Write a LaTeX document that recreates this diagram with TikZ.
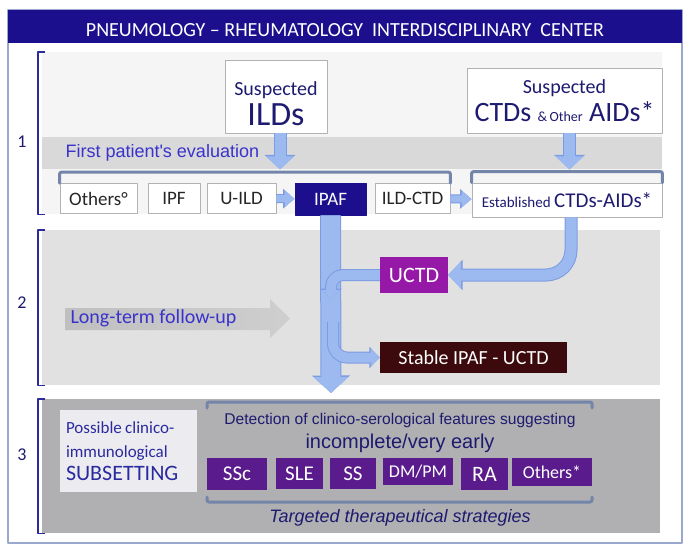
\documentclass[tikz,border=0pt]{standalone}
\usepackage{fontspec}
\setmainfont{Carlito}
\newfontfamily\arialfont{Liberation Sans}
\usetikzlibrary{arrows.meta,positioning,calc}
\newcommand{\fsz}[1]{\fontsize{#1}{#1}\selectfont}

\definecolor{titlenavy}{HTML}{1C0F8E}
\definecolor{framegray}{HTML}{9AA8CF}
\definecolor{txtnavy}{HTML}{1E1A70}
\definecolor{txtblue}{HTML}{3A32CC}
\definecolor{subsetblue}{HTML}{2A2AA0}
\definecolor{arrowblue}{HTML}{9DBAF0}
\definecolor{arrowedge}{HTML}{7B9BE2}
\definecolor{uctdpurple}{HTML}{9518A6}
\definecolor{stablebrown}{HTML}{3C0A0C}
\definecolor{subsetpurple}{HTML}{5A1C8C}
\definecolor{bracknavy}{HTML}{2C2A9C}
\definecolor{brackgray}{HTML}{7385A8}
\definecolor{panelone}{HTML}{F5F5F5}
\definecolor{bandgray}{HTML}{D9D9D9}
\definecolor{paneltwo}{HTML}{E1E1E1}
\definecolor{panelthree}{HTML}{B0B0B2}
\definecolor{possfill}{HTML}{ECECF0}

\tikzset{
	panel/.style={inner sep=0pt, anchor=north west},
	whitebox/.style={draw=gray!60, line width=0.8pt, fill=white, inner sep=0pt, align=center},
	rowbox/.style={whitebox, minimum height=30, text=black!85, font=\fsz{19}},
	purplebox/.style={fill=subsetpurple, text=white, inner sep=0pt, anchor=north},
	bigarrow/.style={arrowblue, line width=19pt, -{Triangle[width=34pt,length=16pt]},
		preaction={draw=arrowedge, line width=21pt, -{Triangle[width=37pt,length=17.5pt]}}},
	midarrow/.style={arrowblue, line width=11pt, -{Triangle[width=27pt,length=13pt]},
		preaction={draw=arrowedge, line width=13pt, -{Triangle[width=30pt,length=14.5pt]}}},
	smallarrow/.style={arrowblue, line width=7pt, -{Triangle[width=16pt,length=10pt]},
		preaction={draw=arrowedge, line width=9pt, -{Triangle[width=19pt,length=11.5pt]}}},
	bendarrow/.style={arrowblue, line width=10pt, -{Triangle[width=18pt,length=9pt]},
		preaction={draw=arrowedge, line width=12pt, -{Triangle[width=21pt,length=10.5pt]}}},
	secbrack/.style={bracknavy, line width=1.6pt},
	grpbrack/.style={brackgray, line width=3pt, line cap=round, rounded corners=2pt},
	seclabel/.style={txtnavy, font=\fsz{18}},
}

\begin{document}
\begin{tikzpicture}[x=1pt, y=-1pt, line join=round]
	\useasboundingbox (0,0) rectangle (693,554);
	%Frame and title
	\draw[framegray, line width=1.3pt, fill=white] (8,10) rectangle (682,543);
	\fill[titlenavy] (8,10) rectangle (682,43);
	\node[text=white, font=\fsz{20}] (title) at (345,30) {PNEUMOLOGY -- RHEUMATOLOGY\ \ INTERDISCIPLINARY\ \ CENTER};
	%Panels
	\node[panel, fill=panelone, minimum width=620, minimum height=162] (sec1) at (42,52) {};
	\node[panel, fill=bandgray, minimum width=620, minimum height=32] (band) at (42,137) {};
	\node[panel, fill=paneltwo, minimum width=618, minimum height=155] (sec2) at (42,230) {};
	\node[panel, fill=panelthree, minimum width=618, minimum height=134] (sec3) at (42,399) {};
	\foreach \s in {sec1,sec2,sec3}
	\draw[secbrack] ([xshift=3pt]\s.north west) -| ([xshift=-4pt]\s.south west) -- ([xshift=3pt]\s.south west);
	\node[seclabel] (one) at (22,142) {1};
	\node[seclabel] (two) at (22,303) {2};
	\node[seclabel] (three) at (22,455) {3};
	
	%Step 1
	\node[whitebox, text=txtnavy, minimum width=102, minimum height=73] (sild) at (276,96.5)
	{\fsz{20}\rule{0pt}{28pt}Suspected\\[4pt]\fsz{34}ILDs};
	\node[whitebox, text=txtnavy, minimum width=195, minimum height=65] (sctd) at (564.5,100.5)
	{\fsz{20}Suspected\\[4pt]\fsz{28}CTDs {\fsz{14}\&\,Other} AIDs*};
	\node[anchor=west, text=txtblue, font=\arialfont\fsz{18}] (first) at (62,153) {First patient's evaluation};
	\foreach \n/\x/\w/\t in {others/98.5/77/Others°, ipf/174/52/IPF, uild/241.5/69/U-ILD, ildctd/412.5/75/ILD-CTD}
	\node[rowbox, minimum width=\w] (\n) at (\x,198.5) {\t};
	\node[rowbox, fill=titlenavy, draw=titlenavy, text=white, minimum width=71, minimum height=32] (ipaf) at (330.5,199) {IPAF};
	\node[whitebox, text=txtnavy, minimum width=190, minimum height=34] (est) at (567,200)
	{\fsz{15}Established \fsz{21}CTDs-AIDs*};
	\draw[grpbrack] (others.north west) |- ($(ildctd.north east)+(0,-11)$) -- (ildctd.north east);
	\draw[grpbrack] (est.north west) |- ($(est.north east)+(0,-11)$) -- (est.north east);
	\draw[midarrow] ([xshift=4pt]sild.south) -- ([xshift=4pt]sild.south |- band.south);
	\draw[midarrow] ([xshift=5pt]sctd.south) -- ([xshift=5pt]sctd.south |- band.south);
	\draw[smallarrow] (uild) -- (ipaf);
	\draw[smallarrow] (ildctd) -- (est);
	
	%Step 2
	\shade[left color=gray!50, right color=gray!38] (65,308) -- (270,308) -- (270,299) -- (290,318.5) -- (270,338) -- (270,330) -- (65,330) -- cycle;
	\node[anchor=west, text=txtblue, font=\fsz{20}] (follow) at (67,318) {Long-term follow-up};
	\node[fill=uctdpurple, text=white, inner sep=0pt, minimum width=68, minimum height=36, font=\fsz{22}] (uctd) at (414,275) {UCTD};
	\node[fill=stablebrown, text=white, inner sep=0pt, minimum width=187, minimum height=31, font=\fsz{20}] (stable) at (473.5,357.5) {Stable IPAF - UCTD};
	\coordinate (down) at (331,393);
	\coordinate (merge) at (331,299);
	\coordinate (branch) at (333,322);
	\draw[bigarrow] (ipaf.south) -- (down);
	\draw[midarrow, rounded corners=25pt] ([xshift=4pt]est.south) |- (uctd.east);
	\draw[bendarrow, rounded corners=12pt] (uctd.west) -| (merge);
	\draw[bendarrow, rounded corners=14pt] (branch) |- (stable.west);
	
	%Step 3
	\node[fill=possfill, text=subsetblue, inner sep=6pt, minimum width=137, minimum height=82, text width=125, align=left] (poss) at (128.5,451)
	{\fsz{17}Possible clinico-\\[7pt]immunological\\[5pt]\fsz{22}SUBSETTING};
	\draw[grpbrack] (207,408) -- (207,402) -- (592,402) -- (592,408);
	\draw[grpbrack] (207,497) -- (207,502) -- (592,502) -- (592,497);
	\node[text=txtnavy, font=\arialfont\fsz{15.6}] (detect) at (400,420) {Detection of clinico-serological features suggesting};
	\node[text=txtnavy, font=\arialfont\fsz{20}] (early) at (400,443) {incomplete/very early};
	\node[text=txtnavy, font=\arialfont\itshape\fsz{18}] (target) at (400,518) {Targeted therapeutical strategies};
	\foreach \n/\x/\w/\h/\f/\t in {ssc/237/60/32/21/SSc, sle/299.5/47/31/21/SLE, ss/353/46/31/21/SS, dmpm/418/70/27/18/{DM/PM}, ra/484.5/47/32/22/RA, oth/552/80/28/18/Others*}
	\node[purplebox, minimum width=\w, minimum height=\h, font=\fsz{\f}] (\n) at (\x,458) {\t};
\end{tikzpicture}
\end{document}
